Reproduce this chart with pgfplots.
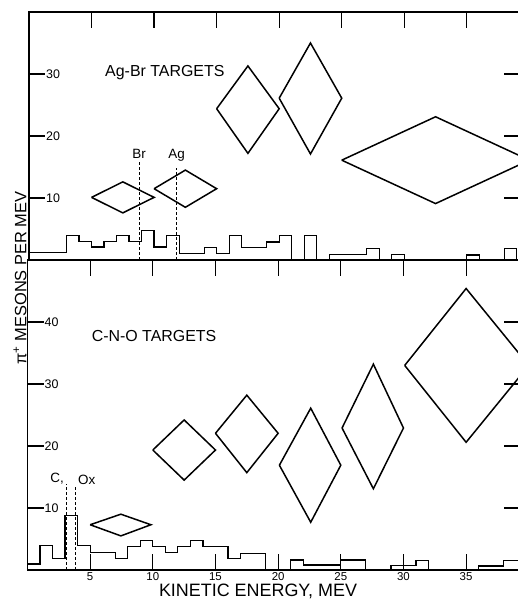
\documentclass[border=0pt]{standalone}
\usepackage{fontspec}
\setmainfont{Liberation Sans}
\usepackage{pgfplots}
\pgfplotsset{compat=1.18}
\begin{document}
\begin{tikzpicture}
\path[use as bounding box] (0,0) rectangle (518bp,600bp);
\pgfplotsset{
  every axis/.append style={
    scale only axis,
    xmin=0, ymin=0,
    axis line style={line width=1.5bp},
    tick align=inside,
    major tick length=16bp,
    every tick/.style={black, line width=1.2bp},
    /pgf/number format/assume math mode=true,
    xtick={5,10,...,35},
    xticklabel style={font=\fontsize{11.5}{12}\selectfont, inner sep=2bp},
    yticklabel style={anchor=west, xshift=16bp, inner sep=1bp, font=\fontsize{12.5}{13}\selectfont},
  },
  diam/.style={black, line width=1.5bp, line join=miter, mark=none},
  hist/.style={black, line width=1.2bp, const plot, mark=none},
  dsh/.style={black, line width=1.1bp, dashed, dash pattern=on 3bp off 2bp, mark=none},
}
% ---------- top panel: Ag-Br ----------
\begin{axis}[
  at={(29bp,340bp)}, anchor=south west,
  width=491bp, height=248bp,
  xmax=39.25, ymax=40,
  ytick={10,20,30},
  xtick pos=right, xticklabels={},
]
\addplot[hist] coordinates {
(0,1.2) (3,4.0) (4,3.0) (5,2.1) (6,3.0) (7,4.0) (8,3.0) (9,4.8) (10,2.1) (11,4.0)
(12,1.05) (14,2.0) (15,1.0) (16,4.0) (17,2.0) (19,2.9) (20,3.9) (21,0) (22,3.9) (23,0)
(24,0.9) (27,1.86) (28,0) (29,0.9) (30,0) (35,0.8) (36,0) (38,1.8) (39,0) (39.25,0)};
\addplot[diam] coordinates {(5,10.1) (7.5,12.6) (10,10.1) (7.5,7.6) (5,10.1)};
\addplot[diam] coordinates {(10,11.5) (12.5,14.5) (15,11.5) (12.5,8.5) (10,11.5)};
\addplot[diam] coordinates {(15,24.4) (17.5,31.3) (20,24.4) (17.5,17.2) (15,24.4)};
\addplot[diam] coordinates {(20,26.1) (22.5,35.0) (25,26.1) (22.5,17.1) (20,26.1)};
\addplot[diam] coordinates {(25,16.1) (32.5,23.1) (40,16.1) (32.5,9.1) (25,16.1)};
\addplot[dsh] coordinates {(8.8,0) (8.8,16.1)};
\addplot[dsh] coordinates {(11.8,0) (11.8,14.8)};
\node[anchor=south, font=\fontsize{13.5}{14}\selectfont, inner sep=1.5bp] at (axis cs:8.8,16.1) {Br};
\node[anchor=south, font=\fontsize{13.5}{14}\selectfont, inner sep=1.5bp] at (axis cs:11.8,15.6) {Ag};
\node[font=\fontsize{16}{17}\selectfont] at (axis cs:10.86,30.3) {Ag-Br TARGETS};
\end{axis}
% ---------- bottom panel: C-N-O ----------
\begin{axis}[
  at={(27.5bp,30bp)}, anchor=south west,
  width=492.5bp, height=310bp,
  xmax=39.3, ymax=50,
  ytick={10,20,30,40},
  xtick pos=both,
]
\addplot[hist] coordinates {
(0,0.97) (1,3.95) (2,1.9) (3,8.75) (4,3.95) (5,2.8) (7,1.9) (8,3.8) (9,4.75) (10,3.8)
(11,2.8) (12,3.8) (13,4.75) (14,3.8) (16,1.8) (17,2.7) (19,0) (21,1.6) (22,0.8) (25,1.6)
(27,0) (29,0.7) (31,1.5) (32,0) (36,0.65) (38,1.5) (39.3,1.5)};
\addplot[diam] coordinates {(5,7.3) (7.45,9.0) (9.85,7.3) (7.45,5.5) (5,7.3)};
\addplot[diam] coordinates {(10,19.35) (12.5,24.2) (15,19.35) (12.5,14.5) (10,19.35)};
\addplot[diam] coordinates {(15,22.05) (17.5,28.2) (20,22.05) (17.5,15.7) (15,22.05)};
\addplot[diam] coordinates {(20.1,16.9) (22.6,26.1) (25,16.9) (22.6,7.7) (20.1,16.9)};
\addplot[diam] coordinates {(25.1,22.9) (27.6,33.2) (30,22.9) (27.6,13.1) (25.1,22.9)};
\addplot[diam] coordinates {(30.1,33.0) (35,45.4) (40,33.0) (35,20.6) (30.1,33.0)};
\addplot[dsh] coordinates {(3.09,0) (3.09,13.9)};
\addplot[dsh] coordinates {(3.81,0) (3.81,13.6)};
\node[anchor=south east, font=\fontsize{13.5}{14}\selectfont, inner sep=1bp] at (axis cs:3.0,13.6) {C,};
\node[anchor=south west, font=\fontsize{13.5}{14}\selectfont, inner sep=1bp] at (axis cs:3.95,13.6) {Ox};
\node[font=\fontsize{16}{17}\selectfont] at (axis cs:10.1,37.8) {C-N-O TARGETS};
\end{axis}
\node[font=\fontsize{18}{19}\selectfont] at (258bp,9bp) {KINETIC ENERGY, MEV};
\node[rotate=90, font=\fontsize{16.5}{17}\selectfont] at (20bp,322bp) {π\textsuperscript{+} MESONS PER MEV};
\end{tikzpicture}
\end{document}
